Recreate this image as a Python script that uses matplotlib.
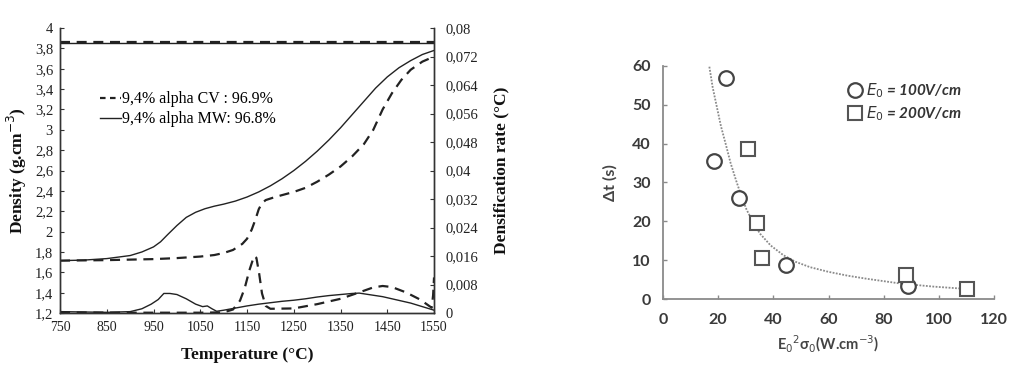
import matplotlib
matplotlib.use("Agg")
import matplotlib.pyplot as plt
from matplotlib.lines import Line2D

# ---------------- Left panel data ----------------
temp_mw = [750, 800, 850, 900, 925, 950, 965, 980, 1000, 1020, 1040, 1060, 1080, 1100,
           1125, 1150, 1175, 1200, 1225, 1250, 1275, 1300, 1325, 1350, 1375, 1400,
           1425, 1450, 1475, 1500, 1525, 1550]
dens_mw = [1.715, 1.72, 1.735, 1.765, 1.80, 1.85, 1.90, 1.97, 2.06, 2.14, 2.19, 2.225, 2.25, 2.27,
           2.30, 2.34, 2.39, 2.45, 2.52, 2.60, 2.69, 2.79, 2.90, 3.02, 3.15, 3.28,
           3.41, 3.52, 3.61, 3.68, 3.74, 3.78]

temp_cv = [750, 850, 950, 1000, 1050, 1080, 1100, 1120, 1140, 1150, 1160, 1168, 1175, 1182,
           1190, 1210, 1250, 1275, 1300, 1325, 1350, 1375, 1400, 1420, 1440, 1460, 1480,
           1500, 1525, 1550]
dens_cv = [1.715, 1.72, 1.73, 1.74, 1.755, 1.77, 1.79, 1.82, 1.88, 1.93, 2.02, 2.12, 2.22, 2.28,
           2.31, 2.34, 2.39, 2.43, 2.49, 2.56, 2.64, 2.74, 2.86, 3.00, 3.20, 3.36, 3.49,
           3.59, 3.67, 3.72]

temp_rate_mw = [750, 800, 850, 900, 925, 945, 960, 972, 985, 1000, 1020, 1040, 1055, 1065,
                1075, 1085, 1100, 1125, 1150, 1175, 1200, 1225, 1250, 1275, 1300, 1325,
                1350, 1375, 1390, 1410, 1440, 1470, 1500, 1525, 1550]
rate_mw = [0.0004, 0.0003, 0.0002, 0.0004, 0.0012, 0.0025, 0.0038, 0.0055, 0.0055, 0.0052,
           0.0040, 0.0025, 0.0018, 0.0020, 0.0012, 0.0005, 0.0008, 0.0014, 0.0020, 0.0025,
           0.0029, 0.0033, 0.0036, 0.0040, 0.0045, 0.0049, 0.0052, 0.0055, 0.0056, 0.0052,
           0.0046, 0.0037, 0.0028, 0.0018, 0.0008]

temp_rate_cv = [750, 900, 1050, 1100, 1120, 1135, 1145, 1155, 1165, 1170, 1176, 1182, 1190,
                1200, 1250, 1300, 1350, 1390, 1420, 1440, 1460, 1490, 1520, 1545, 1548, 1550]
rate_cv = [0.0002, 0.0001, 0.0001, 0.0002, 0.0010, 0.0035, 0.0070, 0.0120, 0.0160, 0.0155,
           0.0110, 0.0055, 0.0020, 0.0012, 0.0013, 0.0025, 0.0040, 0.0058, 0.0072, 0.0076,
           0.0073, 0.0058, 0.0038, 0.0015, 0.0050, 0.0100]

temp_theo = [750, 1550]
dens_theo_cv = [3.865, 3.865]
dens_theo_mw = [3.855, 3.855]

x_ticks_left = [750, 850, 950, 1050, 1150, 1250, 1350, 1450, 1550]
dens_ticks = [1.2, 1.4, 1.6, 1.8, 2.0, 2.2, 2.4, 2.6, 2.8, 3.0, 3.2, 3.4, 3.6, 3.8, 4.0]
dens_tick_labels = ["1,2", "1,4", "1,6", "1,8", "2", "2,2", "2,4", "2,6", "2,8", "3",
                    "3,2", "3,4", "3,6", "3,8", "4"]
rate_ticks = [0, 0.008, 0.016, 0.024, 0.032, 0.04, 0.048, 0.056, 0.064, 0.072, 0.08]
rate_tick_labels = ["0", "0,008", "0,016", "0,024", "0,032", "0,04", "0,048", "0,056",
                    "0,064", "0,072", "0,08"]

label_cv = "9,4% alpha CV : 96.9%"
label_mw = "9,4% alpha MW: 96.8%"

# ---------------- Right panel data ----------------
power_100 = [18.5, 22.7, 27.6, 44.7, 88.8]
dt_100 = [35.5, 56.9, 26.1, 8.7, 3.4]
power_200 = [30.9, 34.0, 35.8, 88.0, 110.3]
dt_200 = [38.5, 19.7, 10.5, 6.1, 2.6]
trend_x = [16.8, 18, 19.5, 21, 22.8, 24.5, 26.5, 28.5, 30.3, 33, 35.2, 39, 43.6, 48, 53.3,
           60, 67, 74, 80, 86, 92, 98, 104, 110]
trend_y = [59.8, 54.5, 49.5, 44.5, 39.7, 35, 30.5, 26.3, 23.0, 19.3, 16.8, 13.8, 11.3, 9.6,
           8.2, 7.0, 6.0, 5.2, 4.6, 4.0, 3.6, 3.2, 2.9, 2.6]
x_ticks_right = [0, 20, 40, 60, 80, 100, 120]
y_ticks_right = [0, 10, 20, 30, 40, 50, 60]

# ---------------- Figure ----------------
fig = plt.figure(figsize=(10.30, 3.79), dpi=100)
fig.patch.set_facecolor("white")

serif = ["Liberation Serif", "DejaVu Serif"]
sans = ["Lato", "DejaVu Sans"]

ax = fig.add_axes([0.0583, 0.174, 0.3631, 0.752])
ax2 = ax.twinx()

dash = (0, (4.5, 3))
ax.plot(temp_mw, dens_mw, color="#222222", lw=1.0)
ax.plot(temp_cv, dens_cv, color="#222222", lw=1.6, linestyle=dash)
ax.plot(temp_theo, dens_theo_cv, color="#222222", lw=1.6, linestyle=dash)
ax.plot(temp_theo, dens_theo_mw, color="#222222", lw=1.0)
ax2.plot(temp_rate_mw, rate_mw, color="#222222", lw=1.0)
ax2.plot(temp_rate_cv, rate_cv, color="#222222", lw=1.6, linestyle=dash)

ax.set_xlim(750, 1550)
ax.set_ylim(1.2, 4.0)
ax2.set_ylim(0, 0.08)
ax.set_xticks(x_ticks_left)
ax.set_xticklabels([str(v) for v in x_ticks_left], fontfamily=serif, fontsize=10)
ax.set_yticks(dens_ticks)
ax.set_yticklabels(dens_tick_labels, fontfamily=serif, fontsize=10.5)
ax2.set_yticks(rate_ticks)
ax2.set_yticklabels(rate_tick_labels, fontfamily=serif, fontsize=10.5)

for a in (ax, ax2):
    a.spines["top"].set_visible(False)
    for s in a.spines.values():
        s.set_color("#333333")
        s.set_linewidth(1.0)
    a.tick_params(direction="in", length=3, width=0.8, colors="#333333", labelcolor="#222222")
ax.tick_params(axis="x", pad=6)
ax.tick_params(axis="y", pad=5)
ax2.tick_params(axis="y", pad=8)

ax.set_xlabel("Temperature (°C)", fontfamily=serif, fontsize=12.5, fontweight="bold",
              labelpad=9, color="#111111")
ax.set_ylabel("Density (g.cm$^{-3}$)", fontfamily=serif, fontsize=12.5, fontweight="bold",
              labelpad=4, color="#111111")
ax2.set_ylabel("Densification rate (°C)", fontfamily=serif, fontsize=12.5, fontweight="bold",
               labelpad=11, color="#111111")

handles = [Line2D([], [], color="#222222", lw=1.6, linestyle=(0, (2.5, 2))),
           Line2D([], [], color="#222222", lw=1.0)]
ax.legend(handles, [label_cv, label_mw], loc="upper left", bbox_to_anchor=(0.09, 0.80),
          frameon=False, prop={"family": serif, "size": 11.5}, handlelength=1.3,
          handletextpad=0.05, labelspacing=0.25, borderaxespad=0)

# Right panel
bx = fig.add_axes([0.6437, 0.211, 0.3214, 0.615])
bx.plot(trend_x, trend_y, color="#8a8a8a", lw=1.3, linestyle=(0, (1, 0.8)))
bx.plot(power_100, dt_100, linestyle="none", marker="o", markersize=10.5,
        markerfacecolor="white", markeredgecolor="#444444", markeredgewidth=1.6,
        label="$\\mathbf{\\it{E}_{0}}$ = 100V/cm")
bx.plot(power_200, dt_200, linestyle="none", marker="s", markersize=9.5,
        markerfacecolor="white", markeredgecolor="#555555", markeredgewidth=1.5,
        label="$\\mathbf{\\it{E}_{0}}$ = 200V/cm")
bx.set_xlim(0, 120)
bx.set_ylim(0, 60)
bx.set_xticks(x_ticks_right)
bx.set_yticks(y_ticks_right)
bx.set_xticklabels([str(v) for v in x_ticks_right], fontfamily=sans, fontsize=11.5,
                   fontweight="bold")
bx.set_yticklabels([str(v) for v in y_ticks_right], fontfamily=sans, fontsize=11.5,
                   fontweight="bold")
bx.spines["top"].set_visible(False)
bx.spines["right"].set_visible(False)
for s in ("left", "bottom"):
    bx.spines[s].set_color("#8a8a8a")
    bx.spines[s].set_linewidth(1.3)
bx.tick_params(direction="in", length=3, width=1, colors="#8a8a8a", labelcolor="#3a3a3a")
bx.tick_params(axis="x", pad=10)
bx.tick_params(axis="y", pad=9)
bx.set_xlabel("E$_0$$^2$σ$_0$(W.cm$^{-3}$)", fontfamily=sans, fontsize=10.5,
              fontweight="bold", color="#444444", labelpad=5)
bx.set_ylabel("Δt (s)", fontfamily=sans, fontsize=11.5, fontweight="bold",
              color="#444444", labelpad=10)
leg = bx.legend(loc="upper left", bbox_to_anchor=(0.535, 0.96), frameon=False,
                prop={"family": sans, "size": 11, "weight": "bold", "style": "italic"},
                handletextpad=0.1, labelspacing=0.3, borderaxespad=0, handlelength=1.2)
for t in leg.get_texts():
    t.set_color("#333333")

fig.savefig("out.png", dpi=100, facecolor="white")
